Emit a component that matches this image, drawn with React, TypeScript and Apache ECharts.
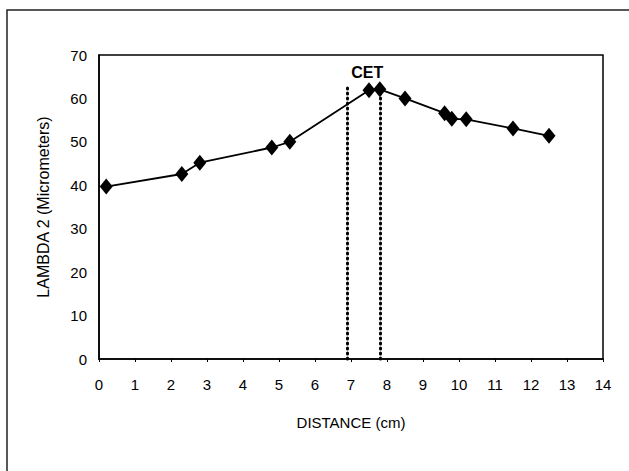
import React, { useEffect, useRef } from "react";
import * as echarts from "echarts";

const distances = [0.2, 2.3, 2.8, 4.8, 5.3, 7.5, 7.8, 8.5, 9.6, 9.8, 10.2, 11.5, 12.5];
const lambda2 = [39.7, 42.6, 45.2, 48.7, 50.0, 61.9, 62.1, 60.0, 56.6, 55.3, 55.2, 53.1, 51.4];
const cetBounds = [6.9, 7.8];
const cetTop = 63;
const cetLabelPos = [7.45, 66];
const xTicks = { min: 0, max: 14, interval: 1 };
const yTicks = { min: 0, max: 70, interval: 10 };

const FONT = "'Liberation Sans', Arial, sans-serif";

export default function App() {
  const ref = useRef<HTMLDivElement>(null);
  useEffect(() => {
    if (!ref.current) return;
    const chart = echarts.init(ref.current, null, { renderer: "svg" });
    const points = distances.map((d, i) => [d, lambda2[i]]);
    chart.setOption({
      animation: false,
      backgroundColor: "#fff",
      textStyle: { fontFamily: FONT },
      graphic: [
        {
          type: "rect",
          shape: { x: 7, y: 10, width: 700, height: 520 },
          style: { fill: "none", stroke: "#222", lineWidth: 1.5 },
          silent: true,
        },
      ],
      grid: {
        left: 99,
        right: 26,
        top: 55,
        bottom: 112,
        show: true,
        borderColor: "#000",
        borderWidth: 1.5,
      },
      xAxis: {
        type: "value",
        min: xTicks.min,
        max: xTicks.max,
        interval: xTicks.interval,
        name: "DISTANCE (cm)",
        nameLocation: "middle",
        nameGap: 56,
        nameTextStyle: { color: "#000", fontSize: 15, fontFamily: FONT },
        axisLine: { lineStyle: { color: "#000", width: 1.5 } },
        axisTick: { show: true, length: 3, lineStyle: { color: "#000" } },
        axisLabel: { color: "#000", fontSize: 15, margin: 18, fontFamily: FONT },
        splitLine: { show: false },
      },
      yAxis: {
        type: "value",
        min: yTicks.min,
        max: yTicks.max,
        interval: yTicks.interval,
        name: "LAMBDA 2 (Micrometers)",
        nameLocation: "middle",
        nameGap: 48,
        nameTextStyle: { color: "#000", fontSize: 16, fontFamily: FONT },
        axisLine: { lineStyle: { color: "#000", width: 1.5 } },
        axisTick: { show: false },
        axisLabel: { color: "#000", fontSize: 15, margin: 12, fontFamily: FONT },
        splitLine: { show: false },
      },
      series: [
        {
          type: "line",
          data: points,
          symbol: "diamond",
          symbolSize: [13, 16],
          itemStyle: { color: "#000" },
          lineStyle: { color: "#000", width: 1.8 },
          z: 3,
          markLine: {
            silent: true,
            symbol: "none",
            label: { show: false },
            lineStyle: { color: "#000", width: 3, type: [1, 4], cap: "round" },
            data: cetBounds.map((b) => [{ coord: [b, 0] }, { coord: [b, cetTop] }]),
          },
          markPoint: {
            silent: true,
            symbolSize: 0,
            data: [
              {
                coord: cetLabelPos,
                label: {
                  show: true,
                  formatter: "CET",
                  color: "#000",
                  fontSize: 16,
                  fontWeight: "bold",
                  fontFamily: FONT,
                },
              },
            ],
          },
        },
      ],
    });
    return () => chart.dispose();
  }, []);
  return (
    <div
      ref={ref}
      style={{ position: "fixed", left: 0, top: 0, width: 629, height: 471, background: "#fff" }}
    />
  );
}
